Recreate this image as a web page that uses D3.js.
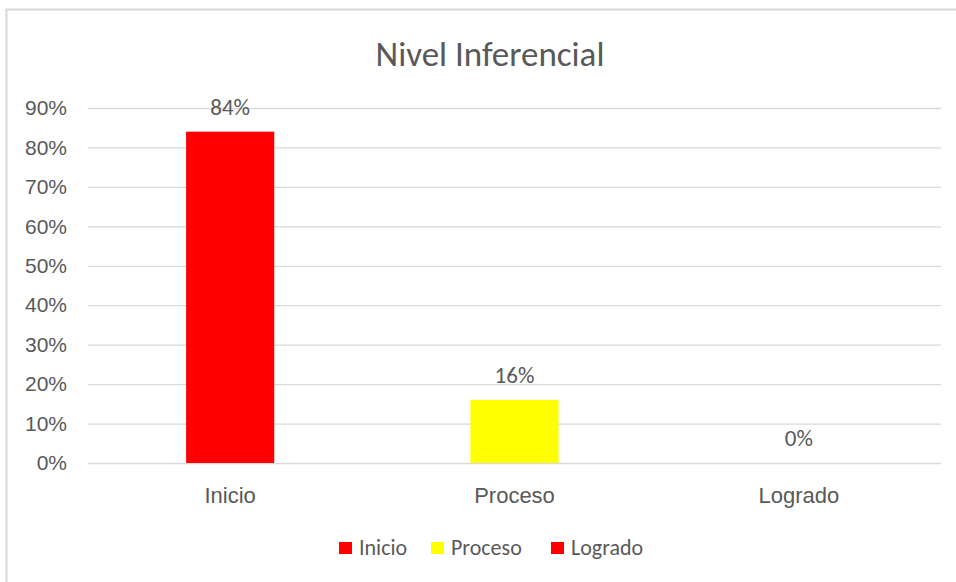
<!DOCTYPE html>
<html>
<head>
<meta charset="utf-8">
<script src="https://cdn.jsdelivr.net/npm/d3@7"></script>
<style>
  html, body { margin: 0; padding: 0; background: #fff; }
  svg { display: block; font-family: Carlito, Lato, 'Open Sans', sans-serif; }
</style>
</head>
<body>
<div id="chart"></div>
<script>
const categories = ['Inicio', 'Proceso', 'Logrado']
const values = [0.84, 0.16, 0]
const barColors = ['#ff0000', '#ffff00', '#ff0000']
const yTicks = [0, 0.1, 0.2, 0.3, 0.4, 0.5, 0.6, 0.7, 0.8, 0.9]

const W = 956
const H = 582
const margin = { top: 108, right: 15, bottom: 119, left: 88 }
const width = W - margin.left - margin.right
const height = H - margin.top - margin.bottom
const textColor = '#595959'
const fontSize = 22

const svg = d3.select('#chart')
  .append('svg')
  .attr('width', W)
  .attr('height', H)

// outer chart frame
svg.append('rect')
  .attr('x', 6.5)
  .attr('y', 9.5)
  .attr('width', W + 20)
  .attr('height', H + 20)
  .attr('fill', 'none')
  .attr('stroke', '#d9d9d9')
  .attr('stroke-width', 2)

svg.append('text')
  .attr('x', 490)
  .attr('y', 66)
  .attr('text-anchor', 'middle')
  .attr('font-size', 35)
  .attr('fill', textColor)
  .text('Nivel Inferencial')

const g = svg.append('g')
  .attr('transform', `translate(${margin.left},${margin.top})`)

const x = d3.scaleBand()
  .domain(categories)
  .range([0, width])
  .paddingInner(0.69)
  .paddingOuter(0.345)

const y = d3.scaleLinear()
  .domain([0, 0.9])
  .range([height, 0])

const pct = d3.format('.0%')

const yAxis = g.append('g')
  .call(d3.axisLeft(y).tickValues(yTicks).tickFormat(pct).tickSize(-width).tickPadding(21))
yAxis.select('.domain').remove()
yAxis.selectAll('.tick line').attr('stroke', '#d9d9d9').attr('stroke-width', 1.3)
yAxis.selectAll('.tick text')
  .attr('fill', textColor)
  .attr('font-size', fontSize - 1)
  .attr('font-family', 'inherit')

const xAxis = g.append('g')
  .attr('transform', `translate(0,${height})`)
  .call(d3.axisBottom(x).tickSize(0).tickPadding(24))
xAxis.select('.domain').remove()
xAxis.selectAll('.tick text')
  .attr('fill', textColor)
  .attr('font-size', fontSize)
  .attr('font-family', 'inherit')

g.selectAll('.bar')
  .data(categories)
  .enter()
  .append('rect')
  .attr('class', 'bar')
  .attr('x', d => x(d))
  .attr('y', (d, i) => y(values[i]))
  .attr('width', x.bandwidth())
  .attr('height', (d, i) => height - y(values[i]))
  .attr('fill', (d, i) => barColors[i])

g.selectAll('.label')
  .data(categories)
  .enter()
  .append('text')
  .attr('class', 'label')
  .attr('x', d => x(d) + x.bandwidth() / 2)
  .attr('y', (d, i) => y(values[i]) - 17)
  .attr('text-anchor', 'middle')
  .attr('font-size', fontSize + 1)
  .attr('fill', textColor)
  .text((d, i) => pct(values[i]))

// legend
const legendItems = [
  { name: 'Inicio', x: 339 },
  { name: 'Proceso', x: 431 },
  { name: 'Logrado', x: 551 }
]
const legend = svg.selectAll('.legend')
  .data(legendItems)
  .enter()
  .append('g')
  .attr('class', 'legend')
  .attr('transform', d => `translate(${d.x},555)`)

legend.append('rect')
  .attr('x', 0)
  .attr('y', -13)
  .attr('width', 13)
  .attr('height', 12)
  .attr('fill', (d, i) => barColors[i])

legend.append('text')
  .attr('x', 20)
  .attr('y', 0)
  .attr('font-size', fontSize)
  .attr('fill', textColor)
  .text(d => d.name)
</script>
</body>
</html>
